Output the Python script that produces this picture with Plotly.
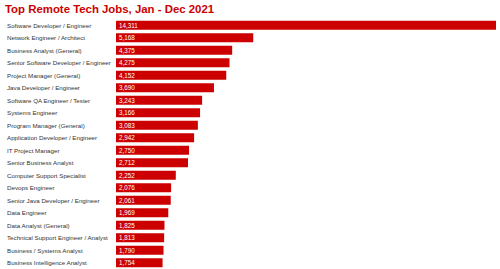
import plotly.graph_objects as go

jobs = [
    "Software Developer / Engineer",
    "Network Engineer / Architect",
    "Business Analyst (General)",
    "Senior Software Developer / Engineer",
    "Project Manager (General)",
    "Java Developer / Engineer",
    "Software QA Engineer / Tester",
    "Systems Engineer",
    "Program Manager (General)",
    "Application Developer / Engineer",
    "IT Project Manager",
    "Senior Business Analyst",
    "Computer Support Specialist",
    "Devops Engineer",
    "Senior Java Developer / Engineer",
    "Data Engineer",
    "Data Analyst (General)",
    "Technical Support Engineer / Analyst",
    "Business / Systems Analyst",
    "Business Intelligence Analyst",
]
postings = [14311, 5168, 4375, 4275, 4152, 3690, 3243, 3166, 3083, 2942,
            2750, 2712, 2252, 2076, 2061, 1969, 1825, 1813, 1790, 1754]

RED = "#cc0000"
FONT = "Arial, Liberation Sans, Helvetica, sans-serif"

fig = go.Figure(go.Bar(
    x=postings, y=jobs, orientation="h",
    marker=dict(color=RED, line=dict(width=0)),
    texttemplate="%{x:,}", textposition="inside", insidetextanchor="start",
    textfont=dict(family=FONT, size=6.3, color="white"),
    hoverinfo="skip",
))

for j in jobs:
    fig.add_annotation(x=0, y=j, xref="paper", yref="y", xanchor="left",
                       xshift=-111, text=j, showarrow=False,
                       font=dict(family=FONT, size=6.2, color="#333333"))

fig.update_layout(
    width=500, height=269,
    margin=dict(l=116, r=4, t=19, b=0),
    paper_bgcolor="white", plot_bgcolor="white",
    bargap=0.28,
    showlegend=False,
    title=dict(text="<b>Top Remote Tech Jobs, Jan - Dec 2021</b>",
               x=0.01, xanchor="left", xref="container",
               y=1 - 9.5 / 269, yanchor="middle", yref="container",
               font=dict(family=FONT, size=11.4, color=RED)),
    xaxis=dict(range=[0, max(postings)], showticklabels=False, showgrid=False,
               zeroline=False, showline=False, fixedrange=True),
    yaxis=dict(autorange="reversed", showticklabels=False, showgrid=False,
               zeroline=False, showline=False, fixedrange=True),
    uniformtext=dict(minsize=6, mode="show"),
)

fig.write_html("out.html", config={"displayModeBar": False})
